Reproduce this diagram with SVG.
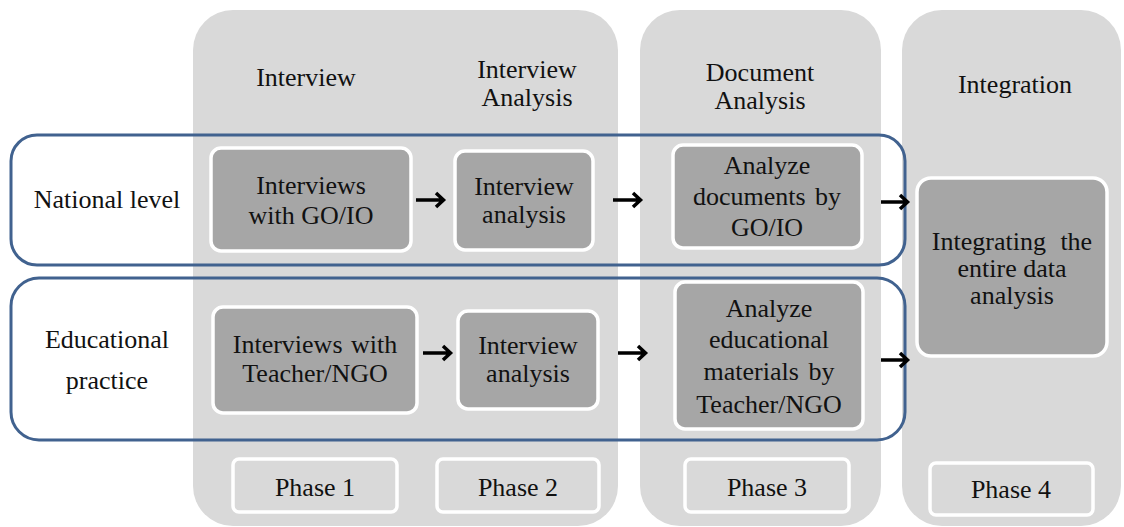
<svg xmlns="http://www.w3.org/2000/svg" width="1124" height="527" viewBox="0 0 1124 527">
  <defs>
    <style>
      .panel { fill: #d9d9d9; }
      .band { fill: none; stroke: #41628f; stroke-width: 3; }
      .node { fill: #a6a6a6; stroke: #ffffff; stroke-width: 3.5; }
      .phase { fill: #d9d9d9; stroke: #ffffff; stroke-width: 3.5; }
      .t { font-family: 'Liberation Serif', 'Times New Roman', serif; font-size: 26px; fill: #111111; text-anchor: middle; }
      .arr { fill: none; stroke: #000000; stroke-width: 3.5; stroke-linejoin: miter; }
    </style>
  </defs>

  <rect width="1124" height="527" fill="#ffffff"/>

  <!-- phase columns -->
  <g id="columns">
    <rect class="panel" x="193" y="10" width="425" height="516" rx="40"/>
    <rect class="panel" x="640" y="10" width="241" height="516" rx="40"/>
    <rect class="panel" x="902" y="10" width="219" height="516" rx="40"/>
  </g>

  <!-- column headers -->
  <g id="headers">
    <text class="t" x="306" y="86">Interview</text>
    <text class="t"><tspan x="527" y="78">Interview</tspan><tspan x="527" y="106">Analysis</tspan></text>
    <text class="t"><tspan x="760" y="81">Document</tspan><tspan x="760" y="109">Analysis</tspan></text>
    <text class="t" x="1015" y="93">Integration</text>
  </g>

  <!-- level bands -->
  <g id="band-national">
    <rect class="band" x="11" y="135" width="894" height="130" rx="26"/>
    <text class="t" x="107" y="208">National level</text>
  </g>
  <g id="band-educational">
    <rect class="band" x="11" y="278" width="894" height="162" rx="28"/>
    <text class="t"><tspan x="107" y="348">Educational</tspan><tspan x="107" y="389">practice</tspan></text>
  </g>

  <!-- process steps -->
  <g id="interviews-go-io">
    <rect class="node" x="211" y="148" width="200" height="103" rx="10"/>
    <text class="t"><tspan x="311" y="194">Interviews</tspan><tspan x="311" y="224">with GO/IO</tspan></text>
  </g>
  <g id="interview-analysis-national">
    <rect class="node" x="455" y="151" width="138" height="99" rx="10"/>
    <text class="t"><tspan x="524" y="195">Interview</tspan><tspan x="524" y="223">analysis</tspan></text>
  </g>
  <g id="analyze-documents">
    <rect class="node" x="673" y="145" width="189" height="103" rx="10"/>
    <text class="t"><tspan x="767" y="174">Analyze</tspan><tspan x="767" y="205" style="word-spacing:3px">documents by</tspan><tspan x="767" y="236">GO/IO</tspan></text>
  </g>
  <g id="interviews-teacher-ngo">
    <rect class="node" x="213" y="307" width="204" height="106" rx="10"/>
    <text class="t"><tspan x="315" y="353" style="word-spacing:2px">Interviews with</tspan><tspan x="315" y="382">Teacher/NGO</tspan></text>
  </g>
  <g id="interview-analysis-educational">
    <rect class="node" x="458" y="311" width="140" height="98" rx="10"/>
    <text class="t"><tspan x="528" y="354">Interview</tspan><tspan x="528" y="382">analysis</tspan></text>
  </g>
  <g id="analyze-materials">
    <rect class="node" x="675" y="282" width="188" height="147" rx="10"/>
    <text class="t"><tspan x="769" y="317">Analyze</tspan><tspan x="769" y="348">educational</tspan><tspan x="769" y="380" style="word-spacing:3px">materials by</tspan><tspan x="769" y="413">Teacher/NGO</tspan></text>
  </g>
  <g id="integrating">
    <rect class="node" x="917" y="178" width="190" height="178" rx="14"/>
    <text class="t"><tspan x="1012" y="250" style="word-spacing:8px">Integrating the</tspan><tspan x="1012" y="277">entire data</tspan><tspan x="1012" y="304">analysis</tspan></text>
  </g>

  <!-- phase labels -->
  <g id="phase-1">
    <rect class="phase" x="233" y="459" width="164" height="53" rx="6"/>
    <text class="t" x="315" y="496">Phase 1</text>
  </g>
  <g id="phase-2">
    <rect class="phase" x="437" y="459" width="162" height="53" rx="6"/>
    <text class="t" x="518" y="496">Phase 2</text>
  </g>
  <g id="phase-3">
    <rect class="phase" x="685" y="459" width="164" height="53" rx="6"/>
    <text class="t" x="767" y="496">Phase 3</text>
  </g>
  <g id="phase-4">
    <rect class="phase" x="930" y="463" width="163" height="52" rx="6"/>
    <text class="t" x="1011" y="498">Phase 4</text>
  </g>

  <!-- connectors -->
  <g id="connectors" class="arr">
    <path d="M416 200 H443 M436 193 L443.5 200 L436 207"/>
    <path d="M613 200 H640 M633 193 L640.5 200 L633 207"/>
    <path d="M881 202 H907 M900 195 L907.5 202 L900 209"/>
    <path d="M423 353 H450 M443 346 L450.5 353 L443 360"/>
    <path d="M618 353 H645 M638 346 L645.5 353 L638 360"/>
    <path d="M881 360 H907 M900 353 L907.5 360 L900 367"/>
  </g>
</svg>
